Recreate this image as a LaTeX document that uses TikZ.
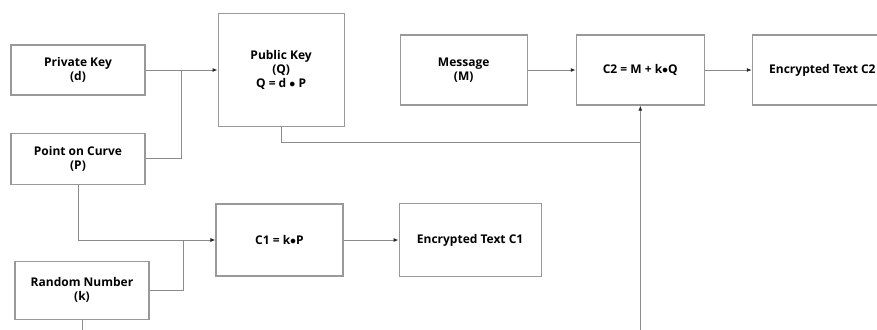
\documentclass[tikz,border=0pt]{standalone}
\usepackage{fontspec}
\setmainfont{Open Sans}
\usetikzlibrary{arrows.meta,positioning}

\tikzset{
  blk/.style={draw=black!40, line width=1.1pt, fill=white, inner sep=0pt,
    align=center, font=\fontsize{12}{14}\selectfont\bfseries},
  wire/.style={draw=black!45, line width=1pt},
  arr/.style={wire, -{Latex[length=5pt,width=4pt,color=black!85]}}
}

\begin{document}
\begin{tikzpicture}[x=1pt,y=-1pt]
    \useasboundingbox[fill=white] (0,0) rectangle (877,329);

    % key generation
    \node[blk, minimum width=134pt, minimum height=50pt] (priv) at (78,70) {Private Key\\(d)};
    \node[blk, minimum width=134pt, minimum height=51pt] (point) [below=37pt of priv] {Point on Curve\\(P)};
    \node[blk, minimum width=126pt, minimum height=113pt] (pub) [right=72pt of priv] {Public Key\\(Q)\\Q = d $\bullet$ P};

    % second cipher text
    \node[blk, minimum width=127pt, minimum height=70pt] (msg) [right=55pt of pub] {Message\\(M)};
    \node[blk, minimum width=128pt, minimum height=70pt] (c2) [right=48pt of msg] {C2 = M + k$\bullet$Q};
    \node[blk, minimum width=140pt, minimum height=70pt] (enc2) [right=47pt of c2] {Encrypted Text C2};

    % first cipher text
    \node[blk, minimum width=134pt, minimum height=58pt] (rand) [below=76pt of point, xshift=4pt] {Random Number\\(k)};
    \node[blk, minimum width=127pt, minimum height=72pt] (c1) at (279.5,240) {C1 = k$\bullet$P};
    \node[blk, minimum width=142pt, minimum height=73pt] (enc1) [right=55pt of c1] {Encrypted Text C1};

    \coordinate (jq) at (181,70);
    \coordinate (jk) at (183,240);
    \coordinate (low) at (0,360);

    \draw[arr] (priv.east) -- (priv.east -| pub.west);
    \draw[wire] (point.east) -| (jq);
    \draw[arr] (msg) -- (c2);
    \draw[arr] (c2) -- (enc2);
    \draw[wire] (pub.south) |- (c2.south |- 0,142);

    \draw[arr] (point.south) |- (c1.west);
    \draw[wire] (rand.east) -| (jk);
    \draw[arr] (c1) -- (enc1);
    \draw[arr] (rand.south) |- (low -| c2.south) -- (c2.south);

\end{tikzpicture}
\end{document}
